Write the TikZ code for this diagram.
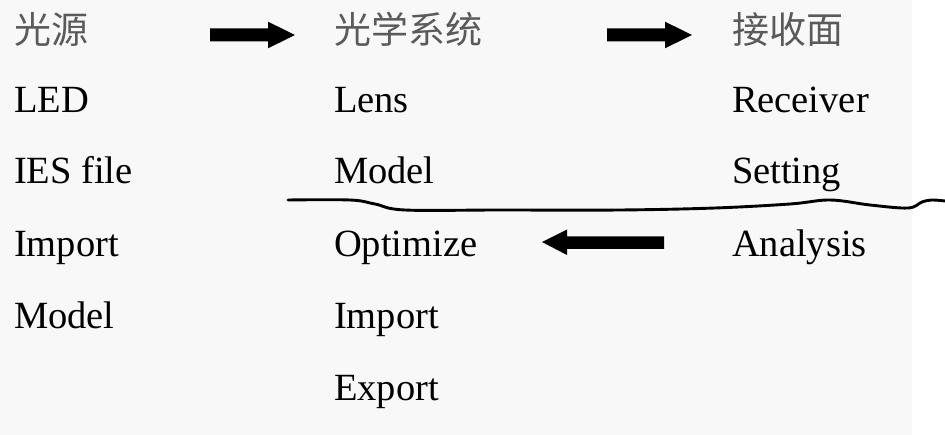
\documentclass[tikz,border=0pt]{standalone}
\usepackage{fontspec}
\setmainfont{Liberation Serif}
\newfontfamily\cjk{Noto Sans CJK SC}
\definecolor{panel}{HTML}{F8F8F8}
\definecolor{cjkgray}{HTML}{5A5A5A}
\begin{document}
\begin{tikzpicture}[x=1pt,y=-1pt,
  lbl/.style={anchor=base west,inner sep=0pt,outer sep=0pt,font=\fontsize{38.5}{46}\selectfont},
  cjklbl/.style={anchor=base west,inner sep=0pt,outer sep=0pt,text=cjkgray,font=\cjk\fontsize{37}{44}\selectfont},
  blockarrow/.style={fill=black},
  wave/.style={line width=2.9pt,line cap=round,line join=round}]
\useasboundingbox (0,0) rectangle (945,435);
\fill[white] (0,0) rectangle (945,435);
\fill[panel] (0,0) rectangle (912,435);
% column 1
\node[cjklbl] (h1) at (14,44) {光源};
\node[lbl] (a1) at (14,113) {LED};
\node[lbl] (a2) at (14,184) {IES file};
\node[lbl] (a3) at (14,257) {Import};
\node[lbl] (a4) at (14,329) {Model};
% column 2
\node[cjklbl] (h2) at (334,44) {光学系统};
\node[lbl] (b1) at (334,113) {Lens};
\node[lbl] (b2) at (334,184) {Model};
\node[lbl] (b3) at (334,257) {Optimize};
\node[lbl] (b4) at (334,329) {Import};
\node[lbl] (b5) at (334,400) {Export};
% column 3
\node[cjklbl] (h3) at (732,44) {接收面};
\node[lbl] (c1) at (732,113) {Receiver};
\node[lbl] (c2) at (732,184) {Setting};
\node[lbl] (c3) at (732,257) {Analysis};
% block arrows
\fill[blockarrow] (210,28.5) -- (268,28.5) -- (268,21.7) -- (295,35) -- (268,48.3) -- (268,41.5) -- (210,41.5) -- cycle;
\fill[blockarrow] (607,28.5) -- (665,28.5) -- (665,21.7) -- (692,35) -- (665,48.3) -- (665,41.5) -- (607,41.5) -- cycle;
\fill[blockarrow] (664,236.5) -- (567,236.5) -- (567,229.5) -- (542,242) -- (567,255) -- (567,249) -- (664,249) -- cycle;
% hand-drawn divider
\draw[wave] plot[smooth,tension=0.6] coordinates {(288,200) (350,200) (375,204) (405,210) (500,210) (620,210) (715,208) (790,204) (830,200) (870,205) (908,208) (922,202) (932,200) (945,201)};
\end{tikzpicture}
\end{document}
